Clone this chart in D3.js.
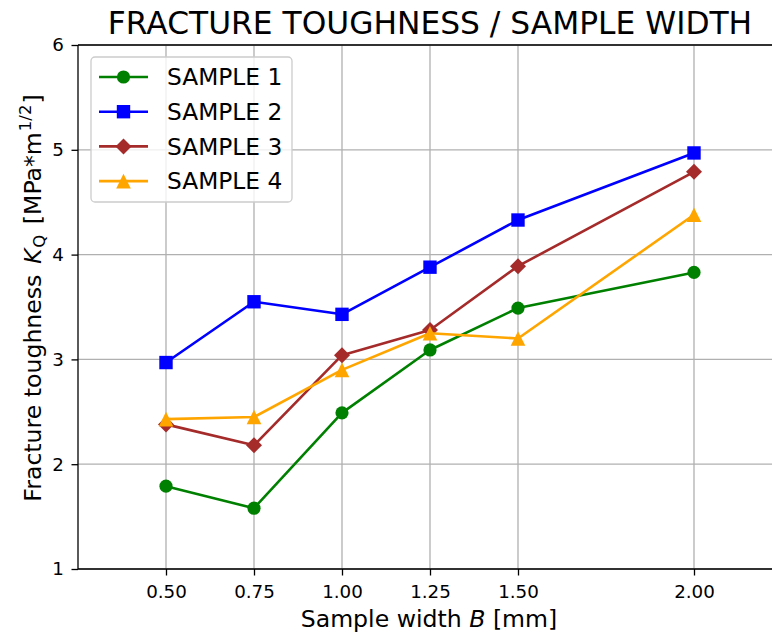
<!DOCTYPE html>
<html>
<head>
<meta charset="UTF-8">
<script src="https://cdn.jsdelivr.net/npm/d3@7"></script>
<style>
    body { margin: 0; background: #fff; }
    svg { font-family: "DejaVu Sans", sans-serif; display: block; }
    .grid line { stroke: #b0b0b0; stroke-width: 1.3px; }
    .axis line { stroke: #000; stroke-width: 1.3px; }
</style>
</head>
<body>
<div id="chart"></div>
<script>
// Valores
const widths = [0.50, 0.75, 1.00, 1.25, 1.50, 2.00];
const xTicks = [0.50, 0.75, 1.00, 1.25, 1.50, 2.00];
const yTicks = [1, 2, 3, 4, 5, 6];

const sample1 = [1.79, 1.58, 2.49, 3.09, 3.49, 3.83];
const sample2 = [2.97, 3.55, 3.43, 3.88, 4.33, 4.97];
const sample3 = [2.38, 2.18, 3.04, 3.28, 3.89, 4.79];
const sample4 = [2.43, 2.45, 2.90, 3.25, 3.20, 4.38];

const seriesNames = ["SAMPLE 1", "SAMPLE 2", "SAMPLE 3", "SAMPLE 4"];
const seriesColors = ["#008000", "#0000ff", "#a52a2a", "#ffa500"];

const width = 772, height = 637;
const m = { left: 78, top: 45, right: 782, bottom: 569 };

// Marcadores tipo matplotlib
const markerCircle = { draw(ctx) { ctx.moveTo(6.6, 0); ctx.arc(0, 0, 6.6, 0, 2 * Math.PI); } };
const markerSquare = { draw(ctx) { ctx.rect(-6.7, -6.7, 13.4, 13.4); } };
const markerDiamond = { draw(ctx) { ctx.moveTo(0, -8); ctx.lineTo(8, 0); ctx.lineTo(0, 8); ctx.lineTo(-8, 0); ctx.closePath(); } };
const markerTriangle = { draw(ctx) { ctx.moveTo(0, -7.3); ctx.lineTo(7.3, 7.3); ctx.lineTo(-7.3, 7.3); ctx.closePath(); } };
const markers = [markerCircle, markerSquare, markerDiamond, markerTriangle];

const series = [sample1, sample2, sample3, sample4].map((vals, i) => ({
    name: seriesNames[i],
    color: seriesColors[i],
    marker: markers[i],
    points: widths.map((w, j) => ({ x: w, y: vals[j] }))
}));

const x = d3.scaleLinear().domain([0.25, 2.25]).range([m.left, m.right]);
const y = d3.scaleLinear().domain([1, 6]).range([m.bottom, m.top]);

const svg = d3.select("#chart").append("svg")
    .attr("width", width)
    .attr("height", height);

// Rejilla
const grid = svg.append("g").attr("class", "grid");
grid.selectAll("line.v").data(xTicks).join("line")
    .attr("class", "v")
    .attr("x1", d => x(d)).attr("x2", d => x(d))
    .attr("y1", m.top).attr("y2", m.bottom);
grid.selectAll("line.h").data(yTicks).join("line")
    .attr("class", "h")
    .attr("x1", m.left).attr("x2", m.right)
    .attr("y1", d => y(d)).attr("y2", d => y(d));

// Series
const line = d3.line().x(d => x(d.x)).y(d => y(d.y));
const sg = svg.append("g").selectAll("g").data(series).join("g");
sg.append("path")
    .attr("d", d => line(d.points))
    .attr("fill", "none")
    .attr("stroke", d => d.color)
    .attr("stroke-width", 2.6)
    .attr("stroke-linejoin", "round");
sg.each(function(s) {
    d3.select(this).selectAll("path.mk").data(s.points).join("path")
        .attr("class", "mk")
        .attr("d", d3.symbol().type(s.marker))
        .attr("transform", d => `translate(${x(d.x)},${y(d.y)})`)
        .attr("fill", s.color);
});

// Ejes
const xAxis = svg.append("g").attr("class", "axis")
    .attr("transform", `translate(0,${m.bottom})`)
    .call(d3.axisBottom(x).tickValues(xTicks).tickFormat(d3.format(".2f")).tickSize(6.5).tickPadding(9.5).tickSizeOuter(0));
const yAxis = svg.append("g").attr("class", "axis")
    .attr("transform", `translate(${m.left},0)`)
    .call(d3.axisLeft(y).tickValues(yTicks).tickFormat(d3.format("d")).tickSize(6.5).tickPadding(7.5).tickSizeOuter(0));
[xAxis, yAxis].forEach(a => {
    a.attr("font-family", "DejaVu Sans").attr("font-size", 18.3);
    a.select(".domain").remove();
});

// Bordes
const spines = [
    [m.left, m.top, m.right, m.top],
    [m.left, m.bottom, m.right, m.bottom],
    [m.left, m.top, m.left, m.bottom]
];
svg.append("g").selectAll("line").data(spines).join("line")
    .attr("x1", d => d[0]).attr("y1", d => d[1])
    .attr("x2", d => d[2]).attr("y2", d => d[3])
    .attr("stroke", "#000").attr("stroke-width", 1.3);

// Título
svg.append("text")
    .attr("x", (m.left + m.right) / 2)
    .attr("y", 34)
    .attr("text-anchor", "middle")
    .attr("font-size", 31.3)
    .text("FRACTURE TOUGHNESS / SAMPLE WIDTH");

// Etiqueta eje X
const xl = svg.append("text")
    .attr("x", (m.left + m.right) / 2 - 1)
    .attr("y", 627)
    .attr("text-anchor", "middle")
    .attr("font-size", 23.6);
xl.append("tspan").text("Sample width ");
xl.append("tspan").attr("font-style", "italic").text("B");
xl.append("tspan").text(" [mm]");

// Etiqueta eje Y
const yl = svg.append("text")
    .attr("transform", "translate(41,298) rotate(-90)")
    .attr("text-anchor", "middle")
    .attr("font-size", 23.6);
yl.append("tspan").text("Fracture toughness ");
yl.append("tspan").attr("font-style", "italic").attr("dx", 3).text("K");
yl.append("tspan").attr("font-size", 16.5).attr("dy", 4).attr("dx", 1).text("Q");
yl.append("tspan").attr("dy", -4).attr("dx", 3).text(" [MPa*m");
yl.append("tspan").attr("font-size", 16.5).attr("dy", -10).attr("dx", 1).text("1/2");
yl.append("tspan").attr("dy", 10).attr("dx", 1).text("]");

// Leyenda
const lg = svg.append("g");
lg.append("rect")
    .attr("x", 91).attr("y", 57)
    .attr("width", 201).attr("height", 145)
    .attr("rx", 4)
    .attr("fill", "#fff").attr("fill-opacity", 0.8)
    .attr("stroke", "#cccccc").attr("stroke-width", 1.3);
const rows = lg.selectAll("g").data(series).join("g")
    .attr("transform", (d, i) => `translate(0,${77 + i * 34.7})`);
rows.append("line")
    .attr("x1", 99).attr("x2", 148)
    .attr("stroke", d => d.color).attr("stroke-width", 2.6);
rows.append("path")
    .attr("d", d => d3.symbol().type(d.marker)())
    .attr("transform", "translate(123.5,0)")
    .attr("fill", d => d.color);
rows.append("text")
    .attr("x", 167).attr("dy", "0.36em")
    .attr("font-size", 23.3)
    .text(d => d.name);
</script>
</body>
</html>
